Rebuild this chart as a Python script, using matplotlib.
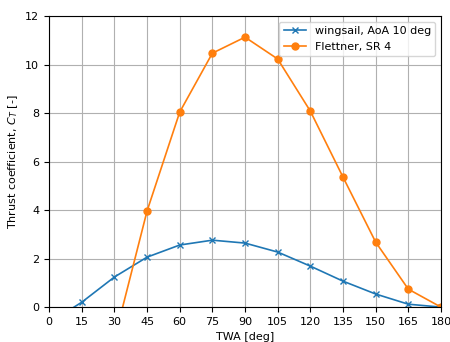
import matplotlib
matplotlib.use("Agg")
import matplotlib.pyplot as plt

twa_wing = [0, 15, 30, 45, 60, 75, 90, 105, 120, 135, 150, 165, 180]
ct_wing = [-0.65, 0.2, 1.24, 2.06, 2.56, 2.76, 2.64, 2.27, 1.69, 1.07, 0.54, 0.12, 0.0]
twa_flett = [30, 45, 60, 75, 90, 105, 120, 135, 150, 165, 180]
ct_flett = [-1.34, 3.96, 8.04, 10.47, 11.13, 10.23, 8.08, 5.36, 2.68, 0.74, 0.0]
xticks = list(range(0, 181, 15))

fig = plt.figure(figsize=(4.5, 3.42), dpi=100)
ax = fig.add_axes([0.109, 0.102, 0.871, 0.851])
ax.plot(twa_wing, ct_wing, marker='x', lw=1.2, ms=5, label='wingsail, AoA 10 deg')
ax.plot(twa_flett, ct_flett, marker='o', lw=1.2, ms=5, label='Flettner, SR 4')
ax.set_xlim(0, 180)
ax.set_ylim(0, 12)
ax.set_xticks(xticks)
ax.tick_params(labelsize=8)
ax.grid(True)
ax.set_xlabel('TWA [deg]', fontsize=8)
ax.set_ylabel('Thrust coefficient, $C_T$ [-]', fontsize=8)
ax.legend(fontsize=8, loc='upper right')
fig.savefig('out.png', dpi=100)
